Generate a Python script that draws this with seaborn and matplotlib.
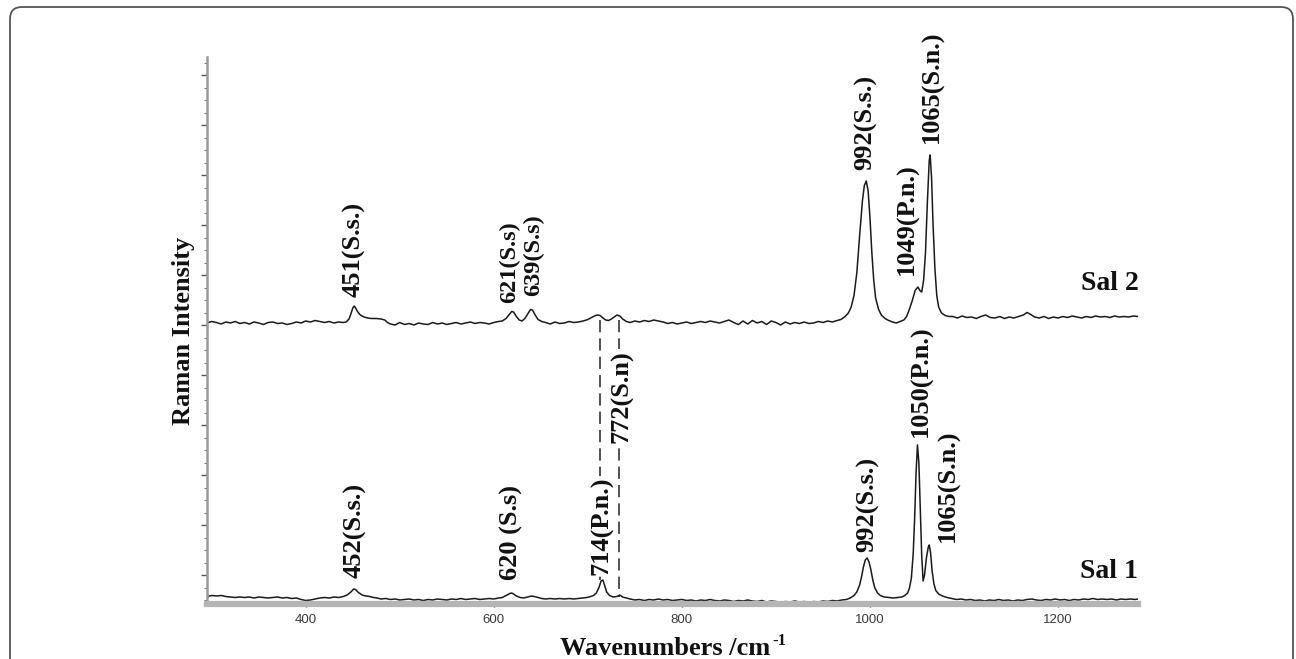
import matplotlib
matplotlib.use("Agg")
import matplotlib.pyplot as plt
from matplotlib.patches import FancyBboxPatch
from matplotlib.ticker import MultipleLocator
import seaborn as sns
import pandas as pd

# ---------------- data ----------------
# Sal 2 spectrum: wavenumber (cm-1) and intensity relative to its own baseline
sal2_wavenumber = [
    295, 300, 305, 310, 315, 320, 325, 330, 335, 340, 345, 350, 355, 360, 365,
    370, 375, 380, 385, 390, 395, 400, 405, 410, 415, 420, 425, 430, 435, 440,
    443, 446, 448, 450, 451.5, 453, 455, 458, 462, 466, 470, 475, 480, 484, 487,
    490, 495, 500, 505, 510, 515, 520, 525, 530, 535, 540, 545, 550, 555, 560,
    565, 570, 575, 580, 585, 590, 595, 600, 605,
    609, 613, 616, 619, 621, 624, 627, 630, 633, 636, 639, 641, 644, 647, 651,
    655, 660, 665, 670, 675, 680, 685, 690, 695, 700,
    703, 707, 710, 713, 716, 719, 722, 725, 728, 731, 734, 737, 741,
    745, 750, 755, 760, 765, 770, 775, 780, 785, 790, 795, 800, 805, 810, 815,
    820, 825, 830, 835, 840, 845, 850, 855, 860, 865, 870, 875, 880, 885, 890,
    895, 900, 905, 910, 915, 920, 925, 930, 935, 940, 945, 950, 955, 960, 965,
    969, 973, 977, 980, 983, 986, 989, 992, 994, 996, 998, 1000, 1002, 1004,
    1006, 1009, 1012, 1016, 1020, 1024, 1028, 1032, 1036, 1039, 1042, 1045,
    1048, 1051, 1053, 1055, 1057, 1059, 1061, 1063, 1064, 1065.5, 1067, 1069,
    1071, 1073, 1076, 1080, 1084,
    1088, 1093, 1098, 1103, 1108, 1113, 1118, 1123, 1128, 1133, 1138, 1143,
    1148, 1153, 1158, 1163, 1167, 1171, 1175, 1180, 1185, 1190, 1195, 1200,
    1205, 1210, 1215, 1220, 1225, 1230, 1235, 1240, 1245, 1250, 1255, 1260,
    1265, 1270, 1275, 1280, 1285,
]
sal2_intensity = [
    0.0, 0.3, 0.1, -0.2, 0.2, 0.0, 0.3, -0.1, 0.1, -0.2, 0.2, 0.0, -0.3, 0.1, 0.2,
    -0.1, 0.0, -0.3, -0.1, 0.2, 0.0, 0.4, 0.2, 0.5, 0.3, 0.1, 0.3, 0.0, 0.2, 0.1,
    0.2, 0.8, 1.8, 3.0, 3.4, 3.0, 2.3, 1.6, 1.2, 1.0, 0.9, 0.9, 0.8, 0.6, 0.1,
    -0.2, -0.4, 0.1, -0.3, -0.1, -0.4, 0.0, -0.2, -0.3, 0.1, -0.2, 0.0, -0.3, -0.1, 0.1,
    -0.2, 0.0, 0.2, -0.1, 0.1, 0.0, -0.2, 0.1, 0.3,
    0.4, 0.9, 1.6, 2.3, 2.2, 1.3, 0.6, 0.4, 0.9, 1.8, 2.7, 2.6, 1.6, 0.7, 0.3,
    0.1, -0.2, 0.2, -0.1, 0.0, 0.3, 0.1, 0.2, 0.4, 0.7,
    1.0, 1.4, 1.6, 1.5, 1.0, 0.6, 0.5, 0.8, 1.2, 1.6, 1.4, 0.8, 0.3,
    0.1, 0.4, 0.2, 0.5, 0.3, 0.6, 0.4, 0.2, -0.1, 0.1, -0.2, 0.0, 0.2, -0.1, 0.1,
    0.3, 0.1, 0.4, 0.2, 0.0, 0.3, 0.6, 0.1, -0.3, 0.4, -0.2, 0.5, 0.0, 0.3, -0.3,
    0.4, 0.1, -0.4, 0.2, -0.2, 0.1, -0.1, 0.2, -0.1, 0.0, 0.3, 0.1, 0.4, 0.2, 0.5,
    0.7, 1.2, 2.0, 3.2, 5.5, 10.0, 17.5, 24.5, 27.5, 28.4, 26.5, 21.0, 14.0, 8.5,
    5.0, 2.8, 1.6, 0.9, 0.5, 0.2, 0.0, 0.3, 0.6, 1.3, 2.8, 4.5,
    6.5, 7.2, 6.5, 6.2, 8.5, 14.0, 24.0, 32.5, 33.6, 29.0, 20.0, 11.0,
    5.5, 3.2, 2.0, 1.5, 1.3,
    1.3, 1.0, 1.4, 1.1, 1.2, 0.9, 1.3, 1.6, 1.1, 1.0, 1.3, 0.9,
    1.2, 1.0, 1.3, 1.6, 2.1, 1.7, 1.2, 1.0, 1.3, 0.9, 1.2, 1.0,
    1.3, 1.1, 1.4, 1.2, 1.0, 1.3, 1.1, 1.4, 1.2, 1.3, 1.1, 1.4,
    1.2, 1.3, 1.2, 1.4, 1.3,
]

# Sal 1 spectrum
sal1_wavenumber = [
    295, 300, 305, 310, 315, 320, 325, 330, 335, 340, 345, 350, 355, 360, 365,
    370, 375, 380, 385, 390, 395, 400, 405, 410, 415, 420, 425, 430, 435, 440,
    444, 448, 451, 453, 456, 460, 464, 468, 472,
    476, 480, 485, 490, 495, 500, 505, 510, 515, 520, 525, 530, 535, 540, 545,
    550, 555, 560, 565, 570, 575, 580, 585, 590, 595, 600, 605,
    609, 613, 617, 619, 621, 624, 628,
    632, 636, 640, 643, 647, 651, 655, 660, 665, 670, 675, 680, 685, 690, 695,
    699, 703,
    706, 709, 712, 714, 716, 718, 720, 723, 727, 731, 734, 737, 741,
    745, 750, 755, 760, 765, 770, 775, 780, 785, 790, 795, 800, 805, 810, 815,
    820, 825, 830, 835, 840, 845, 850, 855, 860, 865, 870, 875, 880, 885, 890,
    895, 900, 905, 910, 915, 920, 925, 930, 935, 940, 945, 950, 955, 960, 965,
    970, 975, 979,
    983, 986, 989, 991, 993, 995, 997, 999, 1001, 1003, 1005, 1008, 1011, 1015,
    1020, 1025, 1030, 1034, 1037,
    1040, 1042, 1044, 1046, 1047.5, 1049, 1050.5, 1052, 1053.5, 1055, 1056.5,
    1058, 1060, 1062, 1063, 1064.5, 1066, 1068, 1070, 1073, 1077, 1082,
    1087, 1092, 1097, 1102, 1107, 1112, 1117, 1122, 1127, 1132, 1137, 1142,
    1147, 1152, 1157, 1162, 1167, 1172, 1177, 1182, 1187, 1192, 1197, 1202,
    1207, 1212, 1217, 1222, 1227, 1232, 1237, 1242, 1247, 1252, 1257, 1262,
    1267, 1272, 1277, 1282, 1285,
]
sal1_intensity = [
    0.3, 0.5, 0.4, 0.5, 0.3, 0.2, 0.1, 0.2, 0.1, 0.2, 0.0, 0.2, 0.1, 0.0, 0.1,
    0.2, 0.0, 0.1, -0.1, 0.0, -0.3, -0.5, -0.4, -0.2, 0.0, 0.1, 0.0, 0.2, 0.1, 0.3,
    0.6, 1.2, 1.8, 1.7, 1.1, 0.6, 0.4, 0.3, 0.1,
    0.0, -0.2, -0.1, -0.3, -0.2, -0.4, -0.3, -0.2, -0.4, -0.3, -0.5, -0.3, -0.4, -0.2, -0.3,
    -0.4, -0.2, -0.3, -0.1, -0.3, -0.2, -0.1, -0.3, -0.2, -0.1, -0.2, 0.0,
    0.1, 0.5, 0.9, 1.0, 0.8, 0.4, 0.1,
    0.0, 0.2, 0.4, 0.3, 0.1, -0.1, -0.2, -0.1, -0.2, -0.1, -0.2, -0.1, -0.2, -0.1, 0.0,
    0.1, 0.3,
    0.5, 1.0, 2.2, 3.4, 3.6, 2.4, 1.2, 0.5, 0.2, 0.3, 0.6, 0.2, 0.0,
    -0.2, -0.4, -0.3, -0.5, -0.3, -0.4, -0.2, -0.4, -0.3, -0.5, -0.4, -0.3, -0.5, -0.4, -0.6,
    -0.4, -0.5, -0.3, -0.5, -0.6, -0.4, -0.5, -0.7, -0.5, -0.6, -0.4, -0.6, -0.7, -0.5, -0.8,
    -0.6, -0.7, -0.9, -0.7, -0.8, -0.6, -0.8, -0.7, -0.9, -0.7, -0.8, -0.6, -0.7, -0.5, -0.6,
    -0.4, -0.3, 0.0,
    0.5, 1.2, 2.6, 4.2, 6.2, 7.6, 8.0, 7.2, 5.6, 3.6, 2.1, 1.0, 0.5, 0.2,
    0.1, 0.0, 0.1, 0.2, 0.5,
    1.0, 2.0, 4.0, 9.0, 16.0, 25.0, 30.6, 27.0, 18.0, 8.5, 3.4,
    4.6, 8.0, 10.2, 10.6, 9.0, 5.5, 2.8, 1.5, 0.8, 0.4, 0.1,
    -0.1, -0.3, -0.2, -0.4, -0.3, -0.5, -0.4, -0.6, -0.4, -0.5, -0.3, -0.5,
    -0.4, -0.6, -0.4, -0.5, -0.3, -0.2, -0.4, -0.5, -0.3, -0.4, -0.2, -0.4,
    -0.3, -0.5, -0.3, -0.4, -0.2, -0.3, -0.1, -0.3, -0.2, -0.3, -0.2, -0.4,
    -0.2, -0.3, -0.2, -0.3, -0.2,
]

sal2_labels = ["451(S.s.)", "621(S.s)", "639(S.s)", "992(S.s.)", "1049(P.n.)", "1065(S.n.)"]
sal1_labels = ["452(S.s.)", "620 (S.s)", "714(P.n.)", "772(S.n)", "992(S.s.)", "1050(P.n.)", "1065(S.n.)"]
series_names = ["Sal 2", "Sal 1"]
x_tick_values = [400, 600, 800, 1000, 1200]
x_label_main = "Wavenumbers /cm"
x_label_sup = "-1"
y_label = "Raman Intensity"

# ---------------- layout constants ----------------
SAL2_OFFSET = 50.4
SAL1_OFFSET = -4.6
sal2_label_pos = [(451, 55.6), (617, 54.4), (642, 55.8), (995, 81.0), (1040, 60.0), (1066, 86.4)]
sal1_label_pos = [(452, -0.6), (619, -1.0), (715, 0.0), (736, 26.4), (998, 4.6), (1055, 27.6), (1083, 6.6)]
dashed_lines = [(713, 51.0, -1.0), (733, 51.0, -4.4)]

# ---------------- figure ----------------
sns.set_style("white")
plt.rcParams["font.family"] = ["Liberation Serif", "DejaVu Serif"]

W, H = 1296, 659
fig = plt.figure(figsize=(W / 100, H / 100), dpi=100)
ax = fig.add_axes([207 / W, 1 - 604 / H, (1138 - 207) / W, (604 - 57) / H])

df2 = pd.DataFrame({"w": sal2_wavenumber, "I": [v + SAL2_OFFSET for v in sal2_intensity]})
df1 = pd.DataFrame({"w": sal1_wavenumber, "I": [v + SAL1_OFFSET for v in sal1_intensity]})
sns.lineplot(data=df2, x="w", y="I", ax=ax, color="#1a1a1a", lw=1.1, estimator=None, sort=False)
sns.lineplot(data=df1, x="w", y="I", ax=ax, color="#1a1a1a", lw=1.1, estimator=None, sort=False)

for x, y0, y1 in dashed_lines:
    ax.plot([x, x], [y0, y1], color="#222222", lw=1.1, ls=(0, (8, 4)), zorder=1)

ann_kw = dict(rotation=90, ha="center", va="bottom", fontsize=19, fontweight="bold",
              color="#111111", zorder=5)
for txt, (x, y) in zip(sal2_labels, sal2_label_pos):
    kw = dict(ann_kw)
    if txt.startswith("621") or txt.startswith("639"):
        kw["fontsize"] = 17.5
    ax.text(x, y, txt, **kw)
for txt, (x, y) in zip(sal1_labels, sal1_label_pos):
    kw = dict(ann_kw)
    if txt.startswith("772") or txt.startswith("714"):
        kw["bbox"] = dict(facecolor="white", edgecolor="none", pad=0.5)
    ax.text(x, y, txt, **kw)

ax.text(1286, 58.2, series_names[0], ha="right", va="center", fontsize=20, fontweight="bold", color="#111111")
ax.text(1285, 0.6, series_names[1], ha="right", va="center", fontsize=20, fontweight="bold", color="#111111")

ax.set_xlim(295, 1285)
ax.set_ylim(-5.8, 103.6)

ax.set_xticks(x_tick_values)
ax.xaxis.set_minor_locator(MultipleLocator(50))
ax.yaxis.set_major_locator(MultipleLocator(10))
ax.yaxis.set_minor_locator(MultipleLocator(2.5))
ax.set_yticklabels([])
ax.tick_params(axis="x", which="both", direction="inout", colors="#333333", width=1.0,
               labelsize=9.5, labelcolor="#3a3a3a", pad=5)
ax.tick_params(axis="x", which="major", length=5)
ax.tick_params(axis="x", which="minor", length=3)
ax.tick_params(axis="y", which="major", direction="out", length=4, width=1.0, colors="#555555")
ax.tick_params(axis="y", which="minor", direction="out", length=2.5, width=0.8, colors="#777777")
ax.tick_params(left=True, bottom=True, which="both")
for lbl in ax.get_xticklabels():
    lbl.set_family(["Liberation Sans", "DejaVu Sans"])

for s in ["top", "right"]:
    ax.spines[s].set_visible(False)
ax.spines["left"].set_color("#9a9a9a")
ax.spines["left"].set_linewidth(1.8)
ax.spines["bottom"].set_color("#b5b5b5")
ax.spines["bottom"].set_linewidth(4.5)

ax.set_xlabel("")
ax.set_ylabel(y_label, fontsize=19, fontweight="bold", color="#111111")
ax.yaxis.set_label_coords(-0.013, 0.5)

# x-axis title with a small raised "-1"
main_t = fig.text(665 / W, 1 - 655 / H, x_label_main, ha="center", va="baseline", fontsize=19,
                  fontweight="bold", color="#111111")
renderer = fig.canvas.get_renderer()
bb = main_t.get_window_extent(renderer=renderer)
fig.text((bb.x1 + 2) / W, (H - 655 + 10) / H, x_label_sup, ha="left", va="baseline", fontsize=12,
         fontweight="bold", color="#111111")

frame = FancyBboxPatch((10, -30), 1283, (H - 7) + 30, boxstyle="round,pad=0,rounding_size=12",
                       transform=None, facecolor="none", edgecolor="#555555", lw=1.3)
fig.patches.append(frame)

fig.savefig("out.png", dpi=100)
